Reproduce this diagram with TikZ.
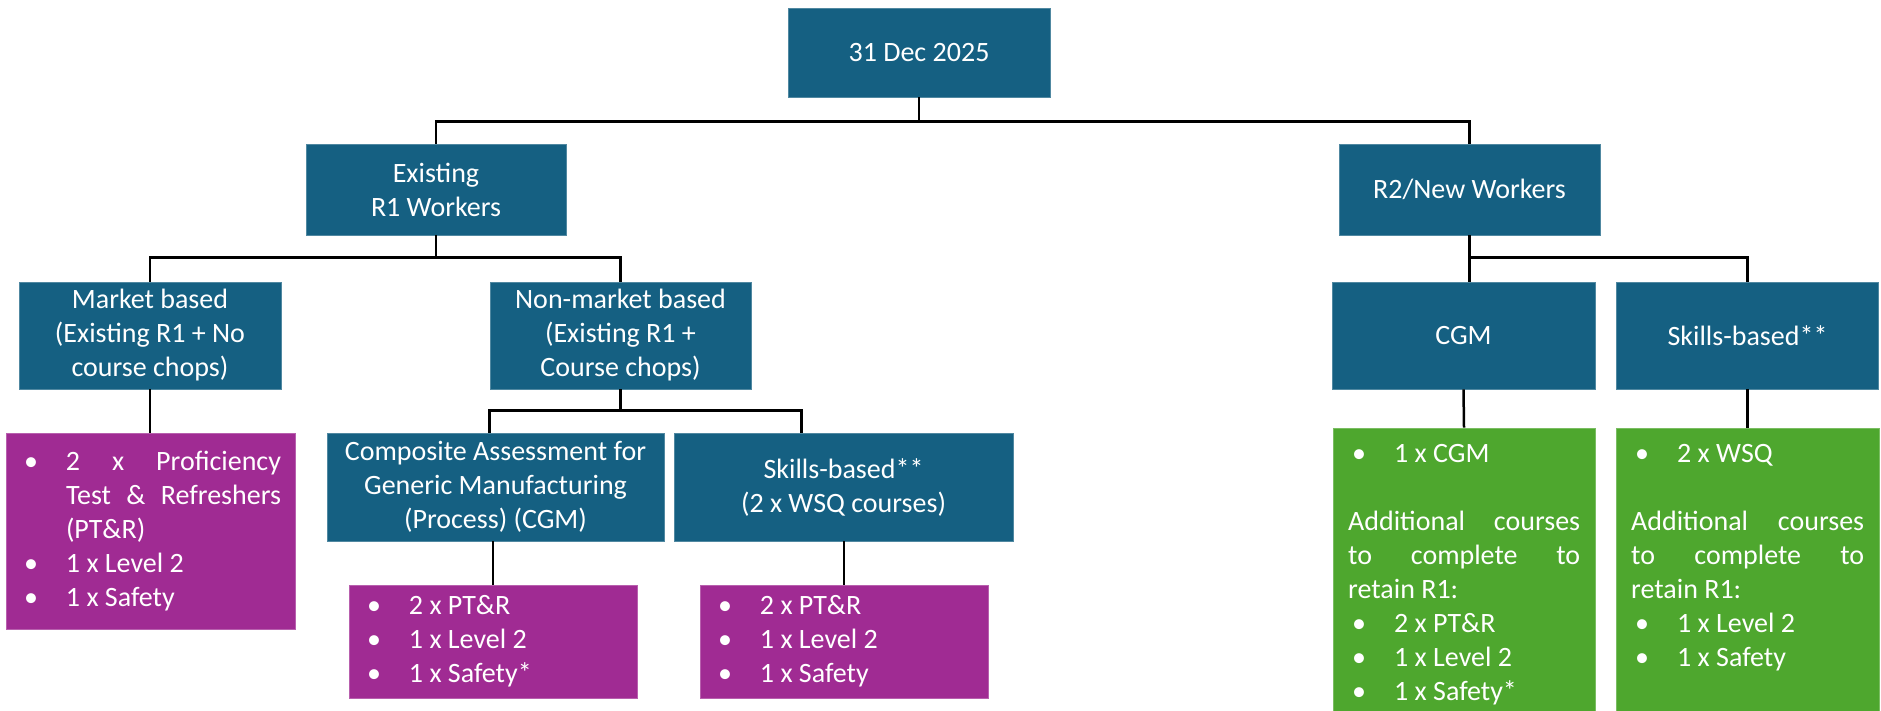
\documentclass[tikz,border=0pt]{standalone}
\usepackage{fontspec}
\setmainfont{Carlito}
\usetikzlibrary{calc}
\definecolor{cblue}{HTML}{156082}
\definecolor{cpurple}{HTML}{A02B93}
\definecolor{cgreen}{HTML}{4EA72E}
\newcommand{\fsz}{\fontsize{28}{34}\selectfont}
\newlength{\bulind}\setlength{\bulind}{46pt}
\newcommand{\bul}[1]{\noindent\hangindent=\bulind\hangafter=1\makebox[\bulind][l]{\hspace{4pt}•}#1}
\hfuzz=30pt
\hbadness=10000
\tikzset{
  box/.style={rectangle, inner sep=0pt, text=white, font=\fsz},
  bluebox/.style={box, fill=cblue, draw=cblue!75!white, line width=0.8pt, align=center},
  purplebox/.style={box, fill=cpurple, draw=cpurple!75!white, line width=0.8pt, align=justify},
  greenbox/.style={box, fill=cgreen, draw=cgreen!75!white, line width=0.8pt},
  boxtext/.style={inner sep=0pt, text=white, font=\fsz, align=justify, anchor=base west},
  conn/.style={draw=black, line width=2.5pt}
}
\begin{document}
\begin{tikzpicture}[x=1pt, y=-1pt]
\useasboundingbox (0,0) rectangle (1881,710);
% level 0
\node[bluebox, minimum width=262pt, minimum height=89pt] (top) at (919,52.5) {31 Dec 2025};
% level 1
\node[bluebox, minimum width=260pt, minimum height=91pt] (ex) at (436,189.5) {Existing\\R1 Workers};
\node[bluebox, minimum width=261pt, minimum height=91pt] (r2) at (1469.5,189.5) {R2/New Workers};
% level 2
\node[bluebox, minimum width=262pt, minimum height=107pt] (mk) at (150,335.5) {Market based\\(Existing R1 + No\\course chops)};
\node[bluebox, minimum width=261pt, minimum height=107pt] (nm) at (620.5,335.5) {Non-market based\\(Existing R1 +\\Course chops)};
\node[bluebox, minimum width=263pt, minimum height=107pt] (cgm) at (1463.5,335.5) {CGM};
\node[bluebox, minimum width=262pt, minimum height=107pt] (sb) at (1747.5,335.5) {Skills-based**};
% level 3
\node[bluebox, minimum width=337pt, minimum height=108pt] (comp) at (495.5,487) {Composite Assessment for\\Generic Manufacturing\\(Process) (CGM)};
\node[bluebox, minimum width=339pt, minimum height=108pt] (sk) at (843.5,487) {Skills-based**\\(2 x WSQ courses)};
% purple boxes
\node[purplebox, minimum width=289pt, minimum height=196pt, text width=261pt] (p1) at (150.5,531) {%
\bul{2 x Proficiency\linebreak Test \& Refreshers\linebreak (PT\&R)}\par
\bul{1 x Level 2}\par
\bul{1 x Safety}};
\node[purplebox, minimum width=288pt, minimum height=113pt, text width=260pt] (p2) at (493,641.5) {%
\bul{2 x PT\&R}\par
\bul{1 x Level 2}\par
\bul{1 x Safety*}};
\node[purplebox, minimum width=288pt, minimum height=113pt, text width=260pt] (p3) at (844,641.5) {%
\bul{2 x PT\&R}\par
\bul{1 x Level 2}\par
\bul{1 x Safety}};
% green boxes
\node[greenbox, minimum width=262pt, minimum height=286pt] (g1) at (1464,571) {};
\node[greenbox, minimum width=263pt, minimum height=286pt] (g2) at (1747.5,571) {};
\node[boxtext, text width=232pt] (g1t) at (1348,462) {%
\bul{1 x CGM}\par
\mbox{}\par
\noindent Additional courses\linebreak to complete to\linebreak retain R1:\par
\bul{2 x PT\&R}\par
\bul{1 x Level 2}\par
\bul{1 x Safety*}};
\node[boxtext, text width=233pt] (g2t) at (1631,462) {%
\bul{2 x WSQ}\par
\mbox{}\par
\noindent Additional courses\linebreak to complete to\linebreak retain R1:\par
\bul{1 x Level 2}\par
\bul{1 x Safety}};
% connectors
\draw[conn] (top.south) -- ++(0,24) -| (ex.north);
\draw[conn] (top.south) -- ++(0,24) -| (r2.north);
\draw[conn] (ex.south) -- ++(0,22) -| (mk.north);
\draw[conn] (ex.south) -- ++(0,22) -| (nm.north);
\draw[conn] (nm.south) -- ++(0,21) -| ($(comp.north west)+(163,0)$);
\draw[conn] (nm.south) -- ++(0,21) -| ($(sk.north west)+(128,0)$);
\draw[conn] (mk.south) -- (mk.south |- p1.north);
\draw[conn] (p2.north) -- (p2.north |- comp.south);
\draw[conn] (p3.north) -- (p3.north |- sk.south);
\draw[conn] (r2.south) -- (r2.south |- cgm.north);
\draw[conn] (r2.south) -- ++(0,22) -| (sb.north);
\draw[conn] (cgm.south) -- (g1.north);
\draw[conn] (sb.south) -- (g2.north);
\end{tikzpicture}
\end{document}
